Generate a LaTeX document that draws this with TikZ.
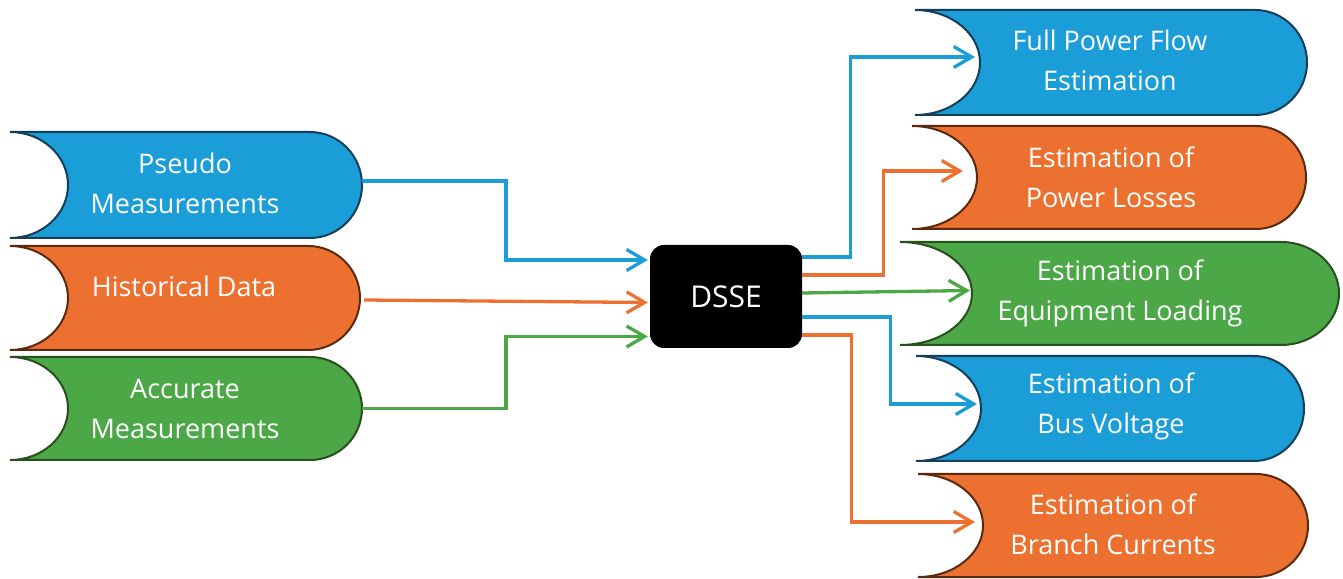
\documentclass[tikz,border=0pt]{standalone}
\usepackage{fontspec}
\setmainfont{Open Sans}
\usetikzlibrary{arrows.meta}

\definecolor{fillblue}{HTML}{1B9DD7}
\definecolor{fillorange}{HTML}{EC7131}
\definecolor{fillgreen}{HTML}{4CA847}
\definecolor{lineblue}{HTML}{163E58}
\definecolor{lineorange}{HTML}{5A2A10}
\definecolor{linegreen}{HTML}{28501F}

\tikzset{
  storeblue/.style={fill=fillblue, draw=lineblue, line width=2pt},
  storeorange/.style={fill=fillorange, draw=lineorange, line width=2pt},
  storegreen/.style={fill=fillgreen, draw=linegreen, line width=2pt},
  caption/.style={text=white, align=center, inner sep=0pt,
    font=\fontsize{27}{40}\selectfont},
  flow/.style={line width=3.3pt, line join=miter,
    -{Straight Barb[length=18pt,width=21pt,line width=3.3pt]}},
  hub/.style={fill=black, rounded corners=14pt, minimum width=152pt,
    minimum height=103pt, inner sep=0pt, text=white,
    font=\fontsize{30}{34}\selectfont}
}

% Stored-data shape: concave left side, convex right side.
% #1 name, #2 style, #3 left x, #4 right x, #5 top y, #6 bottom y (y measured downward),
% #7 depth of the left hollow, #8 depth of the right bulge
\newcommand{\storedshape}[8]{%
  \pgfmathsetmacro{\halfh}{(#6-#5)/2}%
  \draw[#2] (#3,578-#5) -- (#4-#8,578-#5)
    arc[start angle=90, end angle=-90, x radius=#8pt, y radius=\halfh pt]
    -- (#3,578-#6)
    arc[start angle=-90, end angle=90, x radius=#7pt, y radius=\halfh pt]
    -- cycle;
  \coordinate (#1-in) at (#3+#7, 578-#5-\halfh);
  \coordinate (#1-out) at (#4, 578-#5-\halfh);
}

\begin{document}
\begin{tikzpicture}[x=1pt, y=1pt]
\useasboundingbox (0,0) rectangle (1343,578);

% sources
\storedshape{pseudo}{storeblue}{10}{362}{132}{238}{58}{52}
\storedshape{hist}{storeorange}{10}{360}{246}{350}{58}{52}
\storedshape{acc}{storegreen}{10}{362}{357}{460}{58}{52}
\node[caption] (pseudotext) at (185,578-183) {Pseudo\\Measurements};
\node[caption] (histtext) at (184,578-286) {Historical Data};
\node[caption] (acctext) at (185,578-409) {Accurate\\Measurements};

% estimator
\node[hub] (dsse) at (726,578-296.5) {DSSE};

% results
\storedshape{flow}{storeblue}{915}{1307}{10}{115}{65}{52}
\storedshape{loss}{storeorange}{912}{1306}{126}{229}{65}{50}
\storedshape{load}{storegreen}{900}{1339}{242}{345}{72}{58}
\storedshape{volt}{storeblue}{916}{1304}{356}{461}{65}{50}
\storedshape{curr}{storeorange}{918}{1308}{474}{577}{65}{52}
\node[caption] (flowtext) at (1110,578-60) {Full Power Flow\\Estimation};
\node[caption] (losstext) at (1111,578-177) {Estimation of\\Power Losses};
\node[caption] (loadtext) at (1120,578-293) {Estimation of\\Equipment Loading};
\node[caption] (volttext) at (1111,578-406) {Estimation of\\Bus Voltage};
\node[caption] (currtext) at (1113,578-524) {Estimation of\\Branch Currents};

% inputs into the estimator
\draw[flow, fillblue] ([yshift=4]pseudo-out) -- ++(144,0)
  |- ([shift={(-2,36.5)}]dsse.west);
\draw[flow, fillorange] ([shift={(4,-2)}]hist-out) -- ([shift={(-2,-6)}]dsse.west);
\draw[flow, fillgreen] (acc-out) -- ++(144,0)
  |- ([shift={(-2,-40)}]dsse.west);

% outputs of the estimator
\draw[flow, fillblue] ([yshift=39.5]dsse.east) -- ++(48,0)
  |- ([shift={(-5,5.5)}]flow-in);
\draw[flow, fillorange] ([yshift=21.5]dsse.east) -- ++(81,0)
  |- ([shift={(-14,6.5)}]loss-in);
\draw[flow, fillgreen] ([yshift=3.5]dsse.east) -- ([shift={(-2,3)}]load-in);
\draw[flow, fillblue] ([yshift=-20.5]dsse.east) -- ++(88,0)
  |- ([shift={(-4,4.5)}]volt-in);
\draw[flow, fillorange] ([yshift=-38.5]dsse.east) -- ++(49,0)
  |- ([shift={(-8,3.5)}]curr-in);
\end{tikzpicture}
\end{document}
